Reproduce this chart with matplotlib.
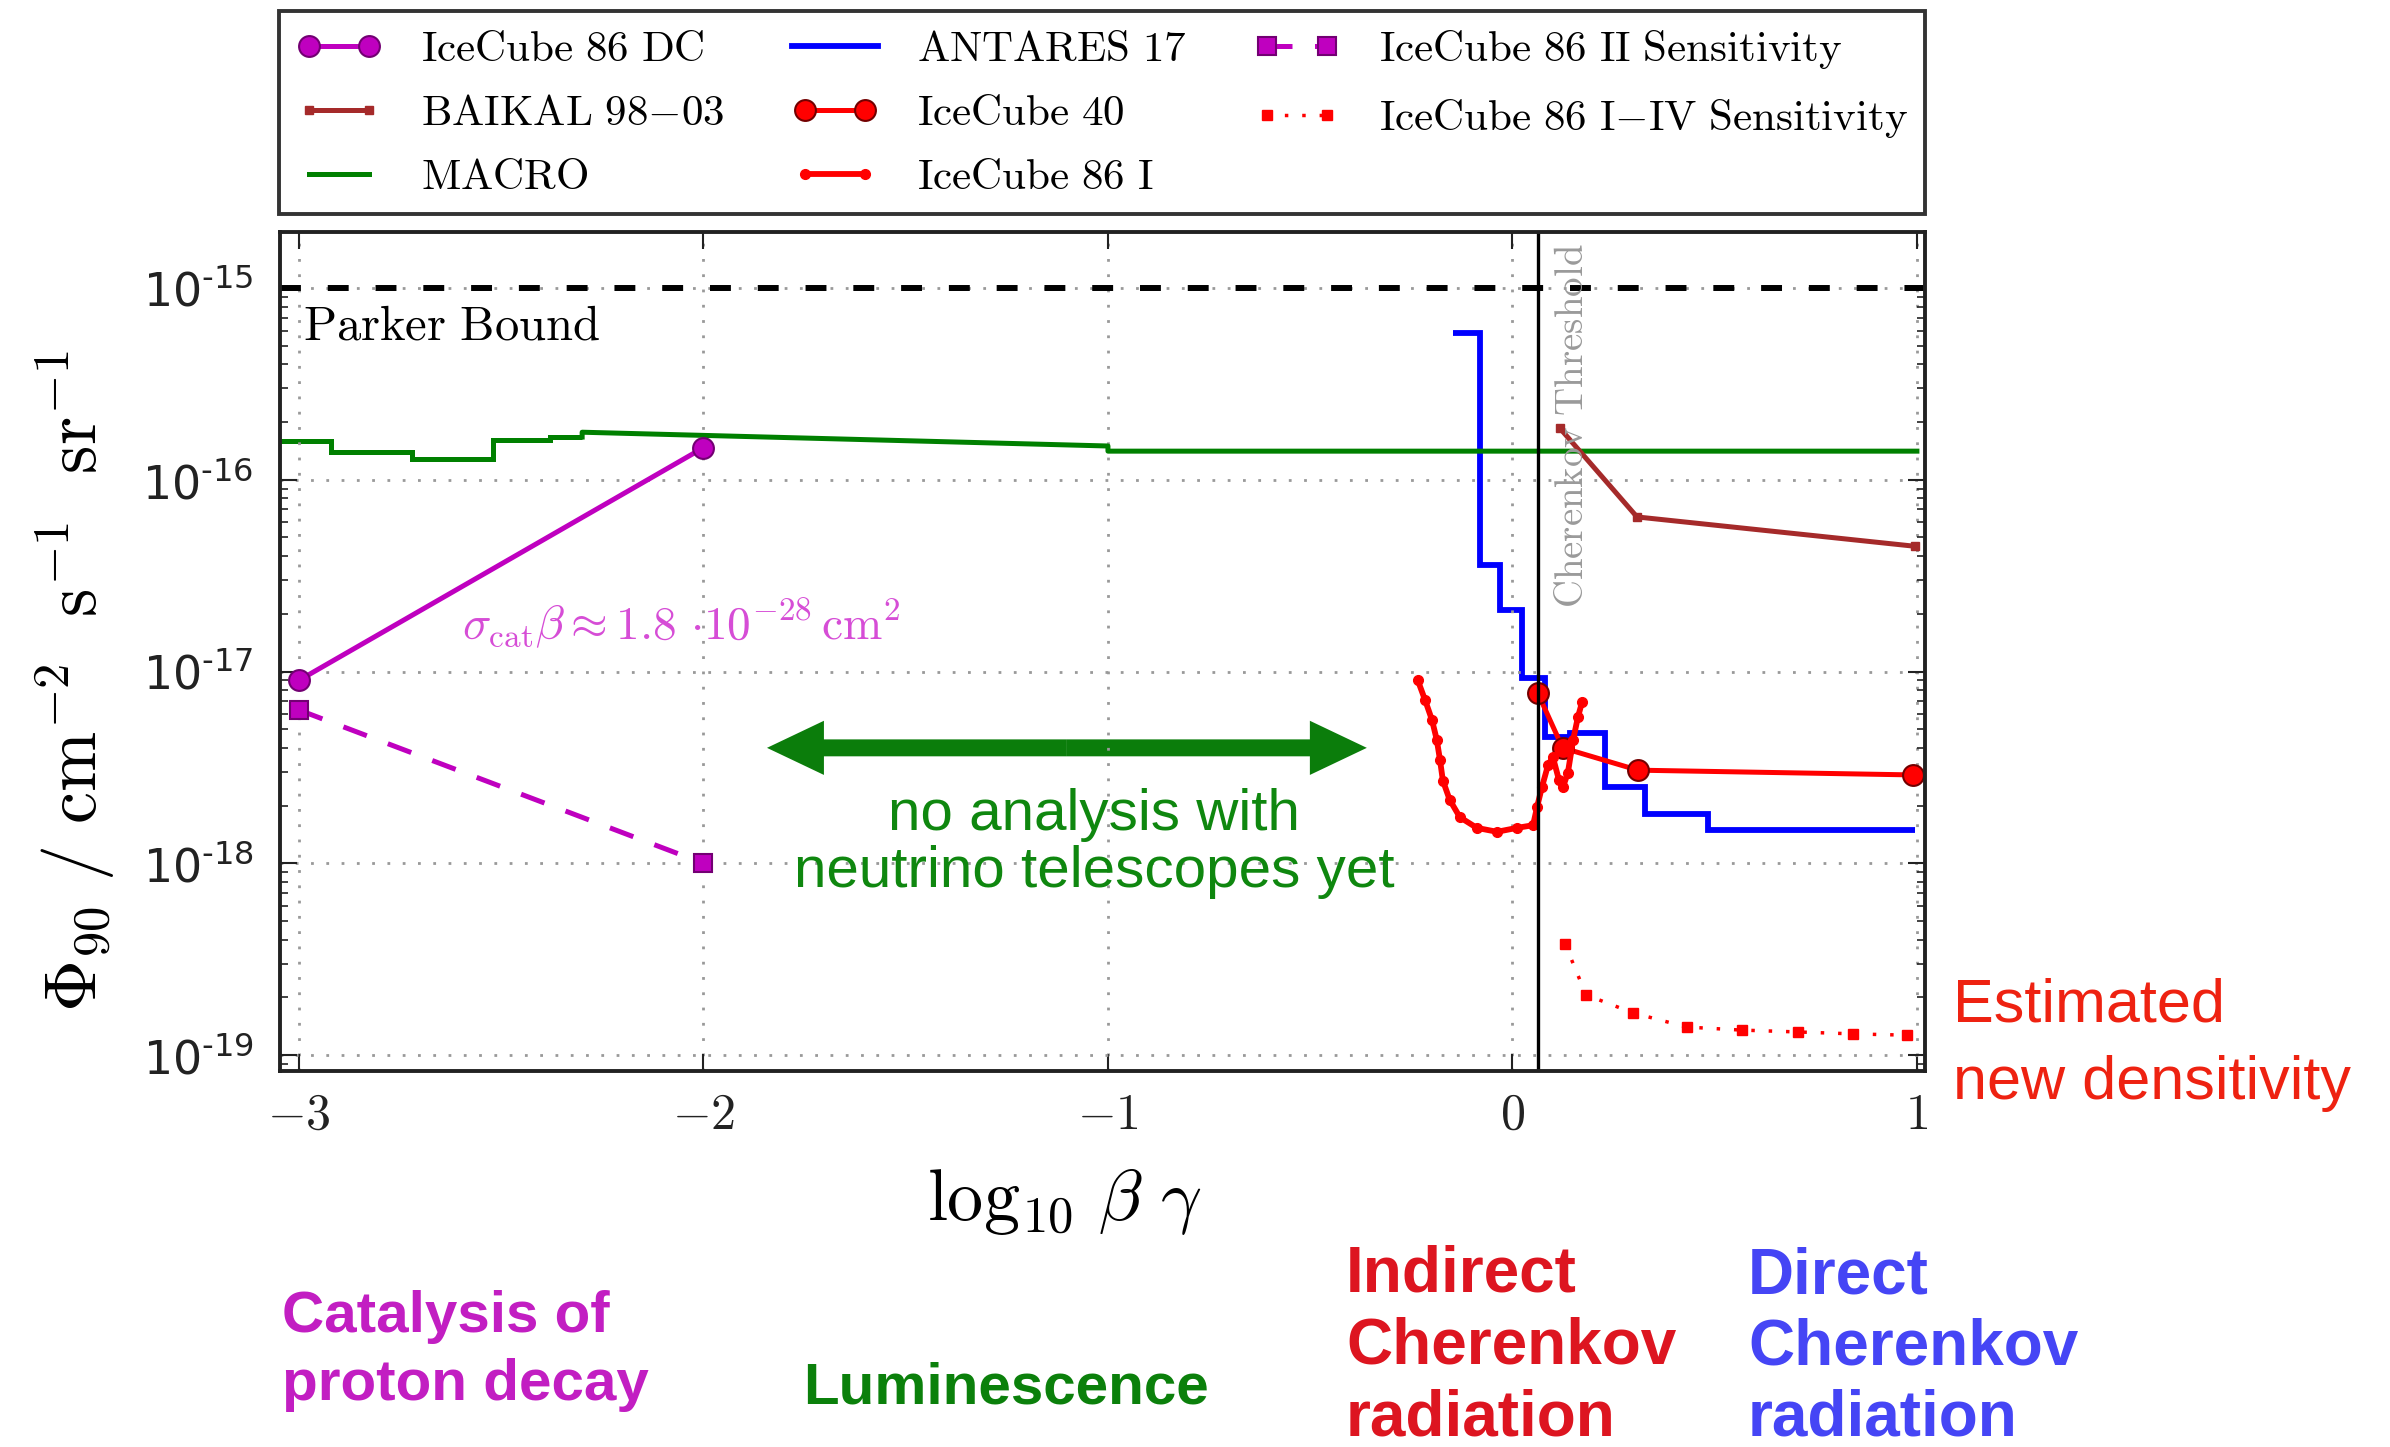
"""
Magnetic monopole flux limits vs. log10(beta*gamma): IceCube, ANTARES,
BAIKAL and MACRO, with the physics regimes labelled underneath.
"""

import matplotlib.pyplot as plt
from matplotlib.patches import FancyArrowPatch, ArrowStyle
from matplotlib.ticker import NullLocator, NullFormatter
from matplotlib.transforms import blended_transform_factory

plt.rcParams.update({"mathtext.fontset": "cm", "font.family": "serif",
                     "font.serif": ["cmr10"], "axes.formatter.use_mathtext": True})

FIG_W, FIG_H = 2390, 1447  # pixels at dpi=100

# axis ranges (log10 beta gamma, flux in cm^-2 s^-1 sr^-1)
X_LIM = (-3.047, 1.020)
Y_LIM = (10 ** -19.083, 10 ** -14.708)
PARKER_BOUND = 1e-15
CHERENKOV_X = 0.063

xtick_pos = [-3, -2, -1, 0, 1]
xtick_labels = [r"$-3$", r"$-2$", r"$-1$", r"$0$", r"$1$"]
ytick_pos = [1e-19, 1e-18, 1e-17, 1e-16, 1e-15]
ytick_labels = [r"$10^{\text{-19}}$", r"$10^{\text{-18}}$", r"$10^{\text{-17}}$",
                r"$10^{\text{-16}}$", r"$10^{\text{-15}}$"]

# IceCube 86 DeepCore (catalysis)
dc_x = [-3.0, -2.0]
dc_y = [9.0e-18, 1.47e-16]

# IceCube 86 II sensitivity
ic86ii_x = [-3.0, -2.0]
ic86ii_y = [6.3e-18, 1.0e-18]

# MACRO: binned part, then the smooth tail
macro_edges = [-3.05, -2.92, -2.72, -2.52, -2.38, -2.30]
macro_vals = [1.59e-16, 1.40e-16, 1.28e-16, 1.61e-16, 1.67e-16]
macro_tail_x = [-2.30, -2.30, -1.0, -1.0, 1.0]
macro_tail_y = [1.67e-16, 1.77e-16, 1.50e-16, 1.41e-16, 1.41e-16]

# ANTARES 17
antares_edges = [-0.147, -0.080, -0.031, 0.024, 0.080, 0.142, 0.229, 0.328,
                 0.483, 0.995]
antares_vals = [5.8e-16, 3.6e-17, 2.1e-17, 9.3e-18, 4.55e-18, 4.8e-18,
                2.5e-18, 1.8e-18, 1.5e-18]

# BAIKAL 98-03
baikal_x = [0.117, 0.308, 0.995]
baikal_y = [1.86e-16, 6.4e-17, 4.5e-17]

# IceCube 40
ic40_x = [0.063, 0.124, 0.310, 0.990]
ic40_y = [7.7e-18, 4.0e-18, 3.06e-18, 2.89e-18]

# IceCube 86 I
ic86i_x = [-0.234, -0.216, -0.199, -0.187, -0.179, -0.172, -0.155, -0.130,
           -0.088, -0.038, 0.011, 0.051, 0.061, 0.073, 0.088, 0.100, 0.115,
           0.125, 0.137, 0.150, 0.162, 0.172]
ic86i_y = [9.0e-18, 7.1e-18, 5.6e-18, 4.4e-18, 3.45e-18, 2.7e-18, 2.14e-18,
           1.74e-18, 1.53e-18, 1.46e-18, 1.53e-18, 1.58e-18, 1.97e-18,
           2.5e-18, 3.25e-18, 3.58e-18, 2.72e-18, 2.5e-18, 2.96e-18,
           4.4e-18, 5.8e-18, 6.9e-18]

# IceCube 86 I-IV sensitivity
ic86iv_x = [0.130, 0.182, 0.298, 0.431, 0.567, 0.706, 0.842, 0.975]
ic86iv_y = [3.8e-19, 2.06e-19, 1.66e-19, 1.40e-19, 1.35e-19, 1.32e-19,
            1.29e-19, 1.27e-19]

# double arrow across the luminescence region
arrow_x = (-1.843, -0.360)
arrow_y = 4.0e-18

legend_order = ["IceCube 86 DC", "BAIKAL 98{-}03", "MACRO", "ANTARES 17",
                "IceCube 40", "IceCube 86 I", "IceCube 86 II Sensitivity",
                "IceCube 86 I{-}IV Sensitivity"]

catalysis_lines = ["Catalysis of", "proton decay"]
lumi_lines = ["Luminescence"]
indirect_lines = ["Indirect", "Cherenkov", "radiation"]
direct_lines = ["Direct", "Cherenkov", "radiation"]
no_analysis_lines = ["no analysis with", "neutrino telescopes yet"]
estimate_lines = ["Estimated", "new densitivity"]


def rm(s):
    """Roman mathtext so the minus sign comes out right in cmr."""
    return r"$\mathrm{" + s.replace(" ", r"\ ") + "}$"


def fx(px):
    return px / FIG_W


def fy(py):
    return 1 - py / FIG_H


def put_lines(fig, lines, px, py0, step, **kw):
    for i, line in enumerate(lines):
        fig.text(fx(px), fy(py0 + i * step), line, va="baseline",
                 family="Liberation Sans", **kw)


def main():
    fig = plt.figure(figsize=(FIG_W / 100, FIG_H / 100), dpi=100)
    ax = fig.add_axes([fx(280), fy(1071), fx(1925) - fx(280), fy(232) - fy(1071)])
    ax.set_yscale("log")
    ax.set_xlim(*X_LIM)
    ax.set_ylim(*Y_LIM)

    h = {}
    ax.stairs(macro_vals, macro_edges, baseline=None, color="green", lw=3.6)
    h["MACRO"], = ax.plot(macro_tail_x, macro_tail_y, color="green", lw=3.6)

    h["IceCube 86 DC"], = ax.plot(dc_x, dc_y, color="m", lw=3.6, marker="o",
                                  ms=15, mec=(0.45, 0, 0.45), mew=1.5)
    h["IceCube 86 II Sensitivity"], = ax.plot(
        ic86ii_x, ic86ii_y, color="m", lw=3.6, ls=(0, (5, 4.5)), marker="s",
        ms=13, mec=(0.45, 0, 0.45), mew=1.5)

    h["ANTARES 17"] = ax.stairs(antares_vals, antares_edges, baseline=None,
                                color="blue", lw=4.2)
    h["BAIKAL 98{-}03"], = ax.plot(baikal_x, baikal_y, color="brown", lw=3.6,
                                   marker="s", ms=6)
    h["IceCube 40"], = ax.plot(ic40_x, ic40_y, color="red", lw=3.6, marker="o",
                               ms=15, mec=(0.45, 0, 0), mew=1.5)
    h["IceCube 86 I"], = ax.plot(ic86i_x, ic86i_y, color="red", lw=4.2,
                                 marker="o", ms=7)
    h["IceCube 86 I{-}IV Sensitivity"], = ax.plot(
        ic86iv_x, ic86iv_y, color="red", lw=2.5, ls=(0, (1, 4)), marker="s",
        ms=7)

    ax.axhline(PARKER_BOUND, color="k", lw=4.3, dashes=(3.5, 4.5))
    ax.axvline(CHERENKOV_X, color="k", lw=2.4)

    # grid, ticks and frame
    ax.grid(True, which="major", color="#999999", lw=2.0, ls=(0, (1, 4.5)))
    ax.set_xticks(xtick_pos, xtick_labels)
    ax.xaxis.set_minor_locator(NullLocator())
    ax.set_yticks(ytick_pos, ytick_labels)
    ax.yaxis.set_minor_formatter(NullFormatter())
    for lbl in ax.get_yticklabels():
        lbl.set_math_fontfamily("dejavusans")
    ax.tick_params(which="both", direction="in", top=True, right=True,
                   colors="#222222")
    ax.tick_params(which="major", length=12, width=1.5)
    ax.tick_params(which="minor", length=6, width=1.2)
    ax.tick_params(axis="x", labelsize=36, pad=16)
    ax.tick_params(axis="y", labelsize=33, pad=19)
    for s in ax.spines.values():
        s.set_linewidth(2.8)
        s.set_color("#222222")

    ax.set_xlabel(r"$\log_{10}\,\beta\ \gamma$", fontsize=52)
    ax.xaxis.set_label_coords(0.4766, -0.114)
    ax.set_ylabel(r"$\Phi_{90}\ /\ \mathrm{cm}^{-2}\ \ \mathrm{s}^{-1}\ \ \mathrm{sr}^{-1}$",
                  fontsize=52)
    ax.yaxis.set_label_coords(-0.099, 0.465)

    # annotations inside the axes
    ax.text(-2.99, 5.36e-16, rm("Parker Bound"), fontsize=35, va="baseline")
    ax.text(-2.597, 1.46e-17,
            r"$\sigma_{\mathrm{cat}}\beta\approx 1.8\ {\cdot}10^{-28}\,\mathrm{cm}^{2}$",
            fontsize=34, color="#d64dd6", va="baseline")
    tr = blended_transform_factory(ax.transData, ax.transAxes)
    ax.text(0.150, 0.986, rm("Cherenkov Threshold"), transform=tr, rotation=90,
            ha="center", va="top", fontsize=28, color="#9a9a9a")

    # luminescence double arrow
    mid = sum(arrow_x) / 2
    style = ArrowStyle.Simple(head_length=4.1, head_width=3.9, tail_width=1.22)
    for tip in arrow_x:
        ax.add_patch(FancyArrowPatch((mid, arrow_y), (tip, arrow_y),
                                     arrowstyle=style, mutation_scale=10,
                                     color="#0b7d0b", lw=0, shrinkA=0, shrinkB=0))

    # legend above the axes
    leg = fig.legend([h[k] for k in legend_order], [rm(k) for k in legend_order],
                     loc="upper left", bbox_to_anchor=(fx(279), fy(11), fx(1925) - fx(279), 0),
                     mode="expand", ncol=3, numpoints=2, fontsize=31, frameon=True,
                     fancybox=False, edgecolor="#333333", framealpha=1,
                     borderpad=0.4, labelspacing=0.6, handlelength=2.0,
                     handletextpad=0.9, borderaxespad=0)
    leg.get_frame().set_linewidth(2.8)

    # regime labels
    put_lines(fig, no_analysis_lines, 1094, 830, 57, fontsize=42,
              color="#0f870f", ha="center")
    put_lines(fig, estimate_lines, 1953, 1022, 77, fontsize=44, color="#ee2211")
    put_lines(fig, catalysis_lines, 282, 1332, 68, fontsize=42,
              color="#c21ec2", weight="bold")
    put_lines(fig, lumi_lines, 803, 1403, 0, fontsize=42, color="#0b800b",
              weight="bold")
    put_lines(fig, indirect_lines, 1346, 1292, 72, fontsize=46,
              color="#dd1520", weight="bold")
    put_lines(fig, direct_lines, 1748, 1293, 71.5, fontsize=46,
              color="#4545f5", weight="bold")

    fig.savefig("out.png", dpi=100)


if __name__ == "__main__":
    main()
